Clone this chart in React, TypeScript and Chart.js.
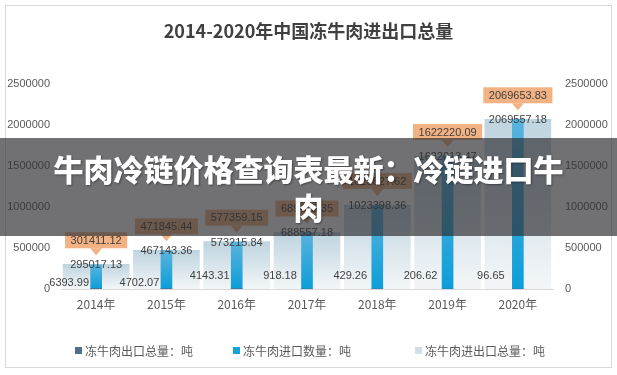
import React, { useEffect, useRef } from "react";
import { Chart, registerables } from "chart.js";

Chart.register(...registerables);

const categories = ["2014年", "2015年", "2016年", "2017年", "2018年", "2019年", "2020年"];
const exportTotal = [6393.99, 4702.07, 4143.31, 918.18, 429.26, 206.62, 96.65];
const importQty = [295017.13, 467143.36, 573215.84, 688557.18, 1023398.36, 1622013.47, 2069557.18];
const tradeTotal = [301411.12, 471845.44, 577359.15, 689475.35, 1023827.62, 1622220.09, 2069653.83];
const yMin = 0;
const yMax = 2500000;
const yStep = 500000;
const seriesNames = ["冻牛肉出口总量：吨", "冻牛肉进口数量：吨", "冻牛肉进出口总量：吨"];
const titleText = "2014-2020年中国冻牛肉进出口总量";
const bannerText = "牛肉冷链价格查询表最新：冷链进口牛肉";

const NUM_FONT = '"Liberation Sans", Arial, sans-serif';
const CJK_FONT = '"Noto Sans CJK SC", "Noto Sans", sans-serif';

const barGradient = (top: string, bottom: string) => (ctx: any) => {
  const chart = ctx.chart;
  const ys = chart.scales && chart.scales.y;
  if (!ys || ctx.type !== "data") return bottom;
  const v = ctx.raw as number;
  const y0 = ys.getPixelForValue(v);
  const y1 = ys.getPixelForValue(0);
  if (!isFinite(y0) || !isFinite(y1) || Math.abs(y1 - y0) < 1) return bottom;
  const g = chart.ctx.createLinearGradient(0, y0, 0, y1);
  g.addColorStop(0, top);
  g.addColorStop(1, bottom);
  return g;
};

const labelPlugin = {
  id: "valueLabels",
  afterDatasetsDraw(chart: any) {
    const ctx = chart.ctx;
    const metaExp = chart.getDatasetMeta(0);
    const metaTotal = chart.getDatasetMeta(2);
    ctx.save();
    ctx.font = `11px ${NUM_FONT}`;
    ctx.textAlign = "center";
    ctx.textBaseline = "middle";
    metaTotal.data.forEach((bar: any, i: number) => {
      const x = bar.x;
      const top = bar.y;
      ctx.fillStyle = "#404040";
      ctx.fillText(importQty[i].toFixed(2), x, top + 1);
      const text = tradeTotal[i].toFixed(2);
      const w = ctx.measureText(text).width + 11;
      const h = 16;
      const by = top - 16 - h;
      ctx.fillStyle = "#f3b283";
      ctx.fillRect(x - w / 2, by, w, h);
      ctx.beginPath();
      ctx.moveTo(x - 6, by + h);
      ctx.lineTo(x + 6, by + h);
      ctx.lineTo(x, by + h + 7);
      ctx.closePath();
      ctx.fill();
      ctx.fillStyle = "#404040";
      ctx.fillText(text, x, by + h / 2 + 0.5);
    });
    metaExp.data.forEach((bar: any, i: number) => {
      ctx.fillStyle = "#404040";
      ctx.fillText(exportTotal[i].toFixed(2), bar.x - 27, bar.base - (i < 2 ? 6 : 13));
    });
    ctx.restore();
  },
};

export default function App() {
  const canvasRef = useRef<HTMLCanvasElement | null>(null);

  useEffect(() => {
    document.body.style.margin = "0";
    const canvas = canvasRef.current;
    if (!canvas) return;
    const chart = new Chart(canvas, {
      type: "bar",
      data: {
        labels: categories,
        datasets: [
          {
            label: seriesNames[0],
            data: exportTotal,
            backgroundColor: "#4f6f8a",
            grouped: false,
            barThickness: 11,
            order: 0,
            yAxisID: "y",
          },
          {
            label: seriesNames[1],
            data: importQty,
            backgroundColor: barGradient("#5ab3dc", "#0c9ed9"),
            grouped: false,
            barThickness: 11,
            order: 1,
            yAxisID: "y",
          },
          {
            label: seriesNames[2],
            data: tradeTotal,
            backgroundColor: barGradient("#bed4df", "#f3f6f8"),
            grouped: false,
            barThickness: 66,
            order: 2,
            yAxisID: "y",
          },
        ],
      } as any,
      options: {
        responsive: false,
        animation: false,
        events: [],
        layout: { padding: { top: 84, bottom: 0, left: 0, right: 0 } },
        plugins: {
          legend: { display: false },
          tooltip: { enabled: false },
          title: { display: false },
        },
        scales: {
          x: {
            grid: { display: false, drawTicks: false },
            border: { display: true, color: "#d9d9d9" },
            ticks: { color: "#595959", font: { size: 12, family: CJK_FONT }, padding: 8 },
            afterFit: (s: any) => {
              s.height = 86;
            },
          },
          y: {
            position: "left",
            min: yMin,
            max: yMax,
            ticks: {
              stepSize: yStep,
              color: "#595959",
              font: { size: 11, family: NUM_FONT },
              padding: 11,
              callback: (v: any) => String(v),
            },
            grid: { display: false, drawTicks: false },
            border: { display: false },
            afterFit: (s: any) => {
              s.width = 61;
            },
          },
          y1: {
            position: "right",
            min: yMin,
            max: yMax,
            ticks: {
              stepSize: yStep,
              color: "#595959",
              font: { size: 11, family: NUM_FONT },
              padding: 12,
              callback: (v: any) => String(v),
            },
            grid: { display: false, drawTicks: false },
            border: { display: false },
            afterFit: (s: any) => {
              s.width = 64;
            },
          },
        },
      } as any,
      plugins: [labelPlugin],
    });
    return () => chart.destroy();
  }, []);

  const legendColors = ["#4f6f8a", "#1aa0d8", "#d3dfe6"];
  const legendLefts = [75, 233, 415];

  return (
    <div
      style={{
        position: "fixed",
        left: 0,
        top: 0,
        width: 617,
        height: 375,
        background: "#ffffff",
        overflow: "hidden",
      }}
    >
      <div
        style={{
          position: "absolute",
          left: 5,
          top: 5,
          width: 605,
          height: 361,
          border: "1px solid #d9d9d9",
        }}
      />
      <canvas ref={canvasRef} width={617} height={375} style={{ position: "absolute", left: 0, top: 0 }} />
      <div
        style={{
          position: "absolute",
          left: 0,
          top: 18,
          width: 617,
          textAlign: "center",
          fontFamily: CJK_FONT,
          fontWeight: 700,
          fontSize: 18,
          lineHeight: "24px",
          color: "#404040",
        }}
      >
        {titleText}
      </div>
      {seriesNames.map((n, i) => (
        <div
          key={n}
          style={{
            position: "absolute",
            left: legendLefts[i],
            top: 342,
            height: 16,
            display: "flex",
            alignItems: "center",
            fontFamily: CJK_FONT,
            fontSize: 12,
            color: "#595959",
            whiteSpace: "nowrap",
          }}
        >
          <span
            style={{
              display: "inline-block",
              width: 7,
              height: 7,
              background: legendColors[i],
              marginRight: 3,
            }}
          />
          {n}
        </div>
      ))}
      <div
        style={{
          position: "absolute",
          left: 0,
          top: 138,
          width: 617,
          height: 98,
          background: "rgba(45,45,50,0.68)",
          boxSizing: "border-box",
          padding: "11px 50px 0 50px",
          textAlign: "center",
          color: "#ffffff",
          fontFamily: CJK_FONT,
          fontWeight: 900,
          fontSize: 30,
          lineHeight: "38px",
          textShadow: "1px 1px 2px rgba(0,0,0,0.4)",
        }}
      >
        {bannerText}
      </div>
    </div>
  );
}
